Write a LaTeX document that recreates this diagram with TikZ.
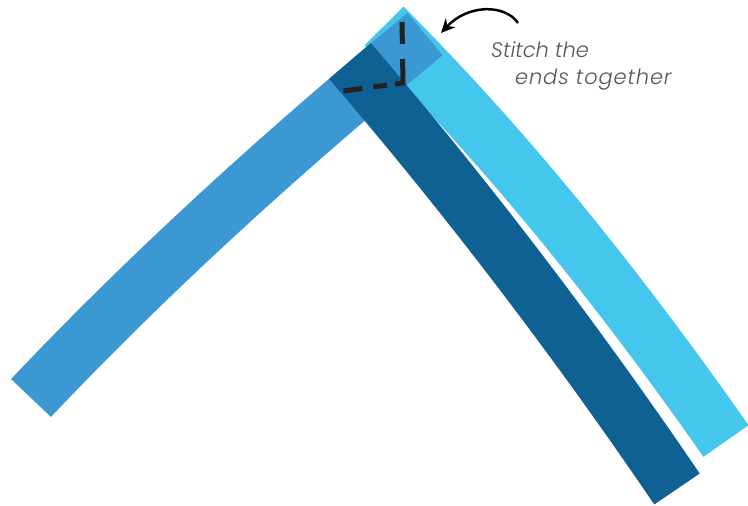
\documentclass[tikz,border=0pt]{standalone}
\usepackage{fontspec}
\usetikzlibrary{arrows.meta}
\IfFontExistsTF{Poppins Light Italic}
  {\newfontfamily\notefont{Poppins Light Italic}}
  {\newfontfamily\notefontbase{Lato}\newcommand\notefont{\notefontbase\itshape}}
\definecolor{stripLight}{HTML}{45C6EC}
\definecolor{stripMid}{HTML}{3B98D3}
\definecolor{stripDark}{HTML}{0F6194}
\definecolor{stitchGray}{HTML}{222222}
\definecolor{noteGray}{HTML}{555555}

\begin{document}
\begin{tikzpicture}[x=1pt,y=-1pt,
  strip/.style={line width=55pt,line cap=butt},
  stitch/.style={line width=5pt,stitchGray,
    dash pattern=on 22pt off 15pt on 32pt off 8pt on 14pt off 11pt on 19pt off 10pt},
  pointer/.style={line width=2.5pt,-{Stealth[length=14pt,width=13pt]}},
  note/.style={font=\notefont\fontsize{21}{25}\selectfont,text=noteGray,inner sep=0pt}]
\useasboundingbox (0,0) rectangle (748,506);
% the three strips, back to front
\draw[strip,stripLight] (384,26) .. controls (511,153) and (623,294) .. (726,441);
\draw[strip,stripMid] (31,398) .. controls (154,268) and (286,149) .. (425,34);
\draw[strip,stripDark] (350,61) .. controls (466,196) and (575,339) .. (677,489);
% stitching
\draw[stitch] (402,22) -- (403,83) -- (343,91);
% label and arrow
\node[note,anchor=base west] (stitch) at (491,57) {Stitch the};
\node[note,anchor=base west] (ends) at (515,84) {\addfontfeature{LetterSpace=4}ends together};
\coordinate (tail) at (518,23);
\coordinate (joint) at (441,33);
\draw[pointer] (tail) .. controls (505,4) and (468,4) .. (joint);
\end{tikzpicture}
\end{document}
